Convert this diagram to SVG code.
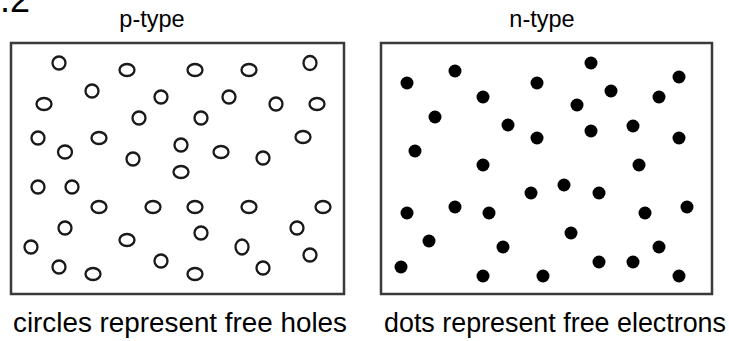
<svg xmlns="http://www.w3.org/2000/svg" width="729" height="341" viewBox="0 0 729 341">
<style>
.box{fill:#fff;stroke:#3a3a3a;stroke-width:2.5}
.h{fill:none;stroke:#1a1a1a;stroke-width:2.3}
.d{fill:#000}
.t{font-family:"Liberation Sans",Arial,sans-serif;fill:#000}
</style>
<rect width="729" height="341" fill="#fff"/>
<text class="t" x="0" y="12" font-size="36">.2</text>
<text class="t" x="152" y="27" font-size="23.5" text-anchor="middle">p-type</text>
<text class="t" x="542" y="27" font-size="23.5" text-anchor="middle">n-type</text>
<g id="p-box">
<rect class="box" x="11" y="43" width="333" height="251"/>
<g class="h">
<circle cx="59" cy="63" r="6.5"/>
<ellipse cx="127" cy="70" rx="7.5" ry="6"/>
<circle cx="92" cy="91" r="6.5"/>
<circle cx="161" cy="97" r="6.5"/>
<ellipse cx="44" cy="104" rx="7.5" ry="6"/>
<circle cx="139" cy="118" r="6.5"/>
<circle cx="38" cy="138" r="6.5"/>
<ellipse cx="99" cy="138" rx="7.5" ry="6"/>
<ellipse cx="65" cy="152" rx="7" ry="6.5"/>
<circle cx="133" cy="159" r="6.5"/>
<ellipse cx="195" cy="70" rx="7.5" ry="6"/>
<ellipse cx="249" cy="70" rx="7.5" ry="6"/>
<ellipse cx="310" cy="63" rx="6.5" ry="7"/>
<circle cx="229" cy="97" r="6.5"/>
<circle cx="276" cy="104" r="6.5"/>
<ellipse cx="317" cy="104" rx="7.5" ry="6"/>
<circle cx="201" cy="118" r="6.5"/>
<circle cx="181" cy="145" r="6.5"/>
<ellipse cx="221" cy="152" rx="7.5" ry="6"/>
<circle cx="263" cy="158" r="6.5"/>
<ellipse cx="303" cy="137" rx="7.5" ry="6"/>
<ellipse cx="181" cy="172" rx="7.5" ry="6"/>
<circle cx="38" cy="187" r="6.5"/>
<circle cx="72" cy="187" r="6.5"/>
<ellipse cx="99" cy="207" rx="7.5" ry="6"/>
<ellipse cx="153" cy="207" rx="7.5" ry="6"/>
<ellipse cx="195" cy="207" rx="7.5" ry="6"/>
<ellipse cx="249" cy="207" rx="7.5" ry="6"/>
<ellipse cx="323" cy="207" rx="7.5" ry="6"/>
<circle cx="65" cy="228" r="6.5"/>
<ellipse cx="127" cy="240" rx="7.5" ry="6"/>
<circle cx="201" cy="233" r="6.5"/>
<circle cx="297" cy="228" r="6.5"/>
<circle cx="31" cy="247" r="6.5"/>
<ellipse cx="242" cy="247" rx="6.5" ry="7.5"/>
<circle cx="310" cy="255" r="6.5"/>
<circle cx="161" cy="261" r="6.5"/>
<circle cx="59" cy="267" r="6.5"/>
<ellipse cx="93" cy="274" rx="7.5" ry="6"/>
<ellipse cx="195" cy="274" rx="7.5" ry="6"/>
<circle cx="263" cy="268" r="6.5"/>
</g>
</g>
<g id="n-box">
<rect class="box" x="381" y="43" width="331" height="251"/>
<g class="d">
<circle cx="407" cy="83" r="6.5"/>
<circle cx="455" cy="71" r="6.5"/>
<circle cx="483" cy="97" r="6.5"/>
<circle cx="537" cy="83" r="6.5"/>
<circle cx="435" cy="117" r="6.5"/>
<circle cx="508" cy="125" r="6.5"/>
<circle cx="537" cy="138" r="6.5"/>
<circle cx="415" cy="151" r="6.5"/>
<circle cx="591" cy="63" r="6.5"/>
<circle cx="679" cy="77" r="6.5"/>
<circle cx="611" cy="91" r="6.5"/>
<circle cx="659" cy="97" r="6.5"/>
<circle cx="577" cy="105" r="6.5"/>
<circle cx="633" cy="126" r="6.5"/>
<circle cx="591" cy="131" r="6.5"/>
<circle cx="679" cy="138" r="6.5"/>
<circle cx="483" cy="165" r="6.5"/>
<circle cx="531" cy="193" r="6.5"/>
<circle cx="407" cy="213" r="6.5"/>
<circle cx="455" cy="207" r="6.5"/>
<circle cx="489" cy="213" r="6.5"/>
<circle cx="429" cy="241" r="6.5"/>
<circle cx="503" cy="247" r="6.5"/>
<circle cx="401" cy="267" r="6.5"/>
<circle cx="483" cy="276" r="6.5"/>
<circle cx="543" cy="276" r="6.5"/>
<circle cx="639" cy="165" r="6.5"/>
<circle cx="564" cy="185" r="6.5"/>
<circle cx="599" cy="193" r="6.5"/>
<circle cx="645" cy="213" r="6.5"/>
<circle cx="687" cy="207" r="6.5"/>
<circle cx="571" cy="233" r="6.5"/>
<circle cx="659" cy="247" r="6.5"/>
<circle cx="599" cy="262" r="6.5"/>
<circle cx="633" cy="262" r="6.5"/>
<circle cx="679" cy="276" r="6.5"/>
</g>
</g>
<text class="t" x="13" y="332" font-size="27" textLength="334" lengthAdjust="spacingAndGlyphs">circles represent free holes</text>
<text class="t" x="384" y="332" font-size="27" textLength="342" lengthAdjust="spacingAndGlyphs">dots represent free electrons</text>
</svg>
